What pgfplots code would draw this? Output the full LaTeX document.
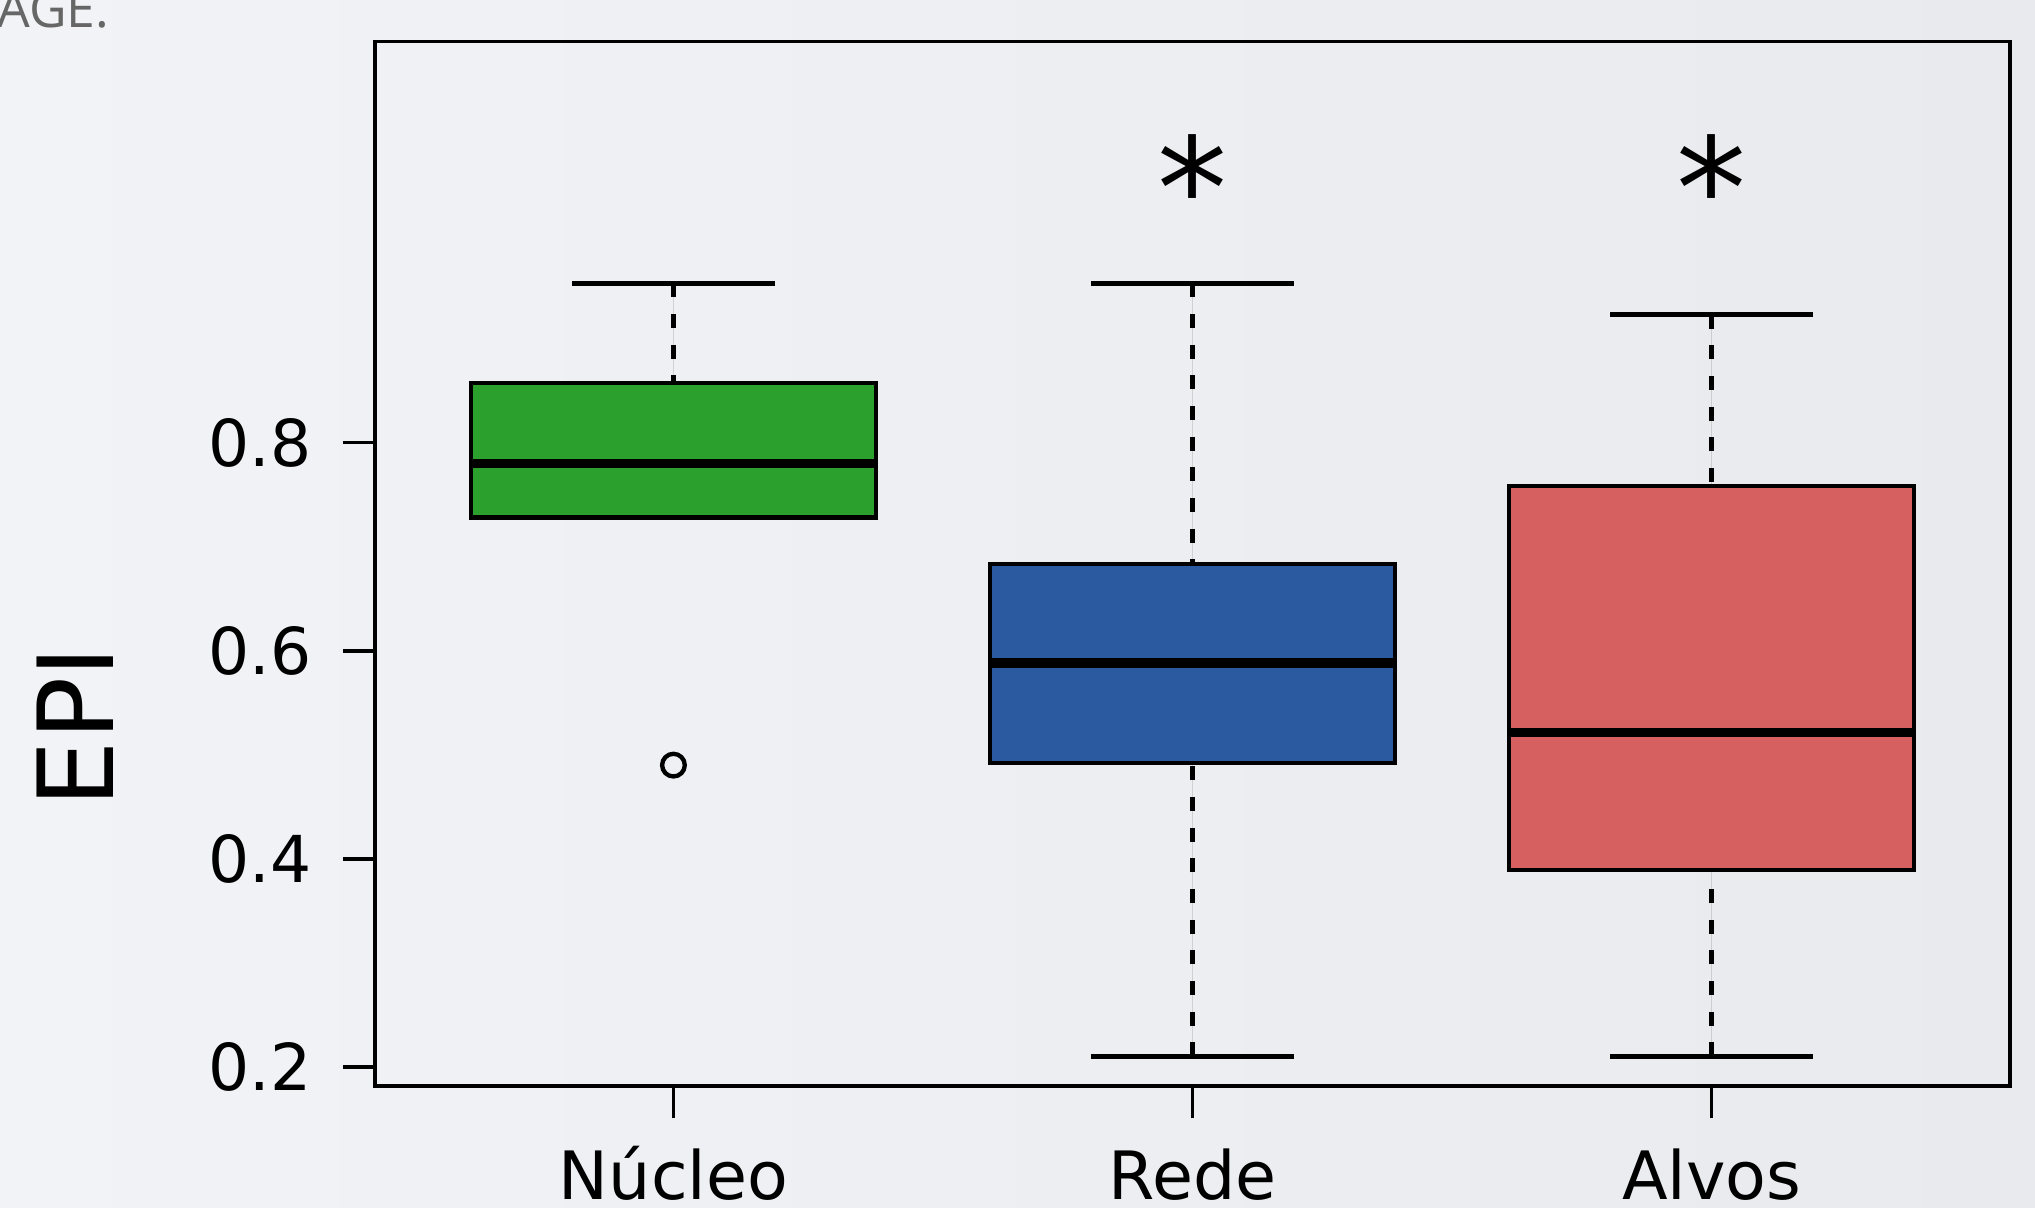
\documentclass[border=0pt]{standalone}
\usepackage{pgfplots}
\pgfplotsset{compat=1.18}
\usepgfplotslibrary{statistics}
\usepackage{fontspec}
\setmainfont{DejaVu Sans}
\newfontfamily\agefont{Open Sans}
\definecolor{bgL}{HTML}{F2F3F6}
\definecolor{bgR}{HTML}{E8EAEE}
\definecolor{cgreen}{HTML}{2CA02C}
\definecolor{cblue}{HTML}{2C5AA0}
\definecolor{cred}{HTML}{D65F5F}
\begin{document}
\begin{tikzpicture}
\shade[left color=bgL,right color=bgR] (0pt,0pt) rectangle (610.5pt,362.1pt);
\useasboundingbox (0pt,0pt) rectangle (610.5pt,362.1pt);
\node[anchor=base west, inner sep=0pt, text=black!60, font=\agefont\fontsize{15.5}{18}\selectfont] at (-1pt,353.7pt) {AGE.};
\begin{axis}[
  at={(112.5pt,36.21pt)}, anchor=south west,
  width=490.5pt, height=313.4pt, scale only axis,
  xmin=0.425, xmax=3.575, ymin=0.1813, ymax=1.1854,
  axis line style={line width=1.1pt, black},
  xtick={1,2,3}, xticklabels={Núcleo,Rede,Alvos},
  ytick={0.2,0.4,0.6,0.8},
  yticklabel style={/pgf/number format/fixed, /pgf/number format/precision=1, /pgf/number format/fixed zerofill},
  /pgf/number format/assume math mode=true,
  tick align=outside, major tick length=9.6pt,
  tick style={line width=1.1pt, black},
  xtick pos=bottom, ytick pos=left,
  xticklabel style={font=\fontsize{20}{24}\selectfont, anchor=base, yshift=-24.5pt},
  yticklabel style={font=\fontsize{19.4}{24}\selectfont, anchor=east, xshift=-6pt},
  ylabel={EPI},
  every axis y label/.style={at={(rel axis cs:0,0.3439)}, xshift=-90pt, rotate=90, anchor=center, inner sep=0pt, font=\fontsize{31.5}{36}\selectfont},
  boxplot/draw direction=y,
  boxplot/draw/lower whisker/.code={%
    \draw[black, line width=1.35pt, dash pattern=on 4.2pt off 5pt] (boxplot cs:\pgfplotsboxplotvalue{lower whisker}) -- (boxplot cs:\pgfplotsboxplotvalue{lower quartile});
    \draw[black, line width=1.3pt, solid] (boxplot whisker cs:\pgfplotsboxplotvalue{lower whisker},0) -- (boxplot whisker cs:\pgfplotsboxplotvalue{lower whisker},1);
  },
  boxplot/draw/upper whisker/.code={%
    \draw[black, line width=1.35pt, dash pattern=on 4.2pt off 5pt] (boxplot cs:\pgfplotsboxplotvalue{upper whisker}) -- (boxplot cs:\pgfplotsboxplotvalue{upper quartile});
    \draw[black, line width=1.3pt, solid] (boxplot whisker cs:\pgfplotsboxplotvalue{upper whisker},0) -- (boxplot whisker cs:\pgfplotsboxplotvalue{upper whisker},1);
  },
  boxplot/every median/.style={line width=2.9pt, black},
]
\addplot[fill=cgreen, draw=black, line width=1.25pt, mark=o, mark size=3.4pt, mark options={line width=1.3pt, draw=black, fill=none},
  boxplot prepared={draw position=1, lower whisker=0.728, lower quartile=0.728, median=0.780, upper quartile=0.857, upper whisker=0.953, box extend=0.78, whisker extend=0.39}]
  table[row sep=\\, y index=0] {0.490\\};
\addplot[fill=cblue, draw=black, line width=1.25pt,
  boxplot prepared={draw position=2, lower whisker=0.210, lower quartile=0.492, median=0.588, upper quartile=0.683, upper whisker=0.953, box extend=0.78, whisker extend=0.39}]
  coordinates {};
\addplot[fill=cred, draw=black, line width=1.25pt,
  boxplot prepared={draw position=3, lower whisker=0.210, lower quartile=0.389, median=0.5215, upper quartile=0.758, upper whisker=0.923, box extend=0.78, whisker extend=0.39}]
  coordinates {};
\node[anchor=base, inner sep=0pt, font=\fontsize{42}{48}\selectfont] at (axis cs:2,0.996) {*};
\node[anchor=base, inner sep=0pt, font=\fontsize{42}{48}\selectfont] at (axis cs:3,0.996) {*};
\end{axis}
\end{tikzpicture}
\end{document}
